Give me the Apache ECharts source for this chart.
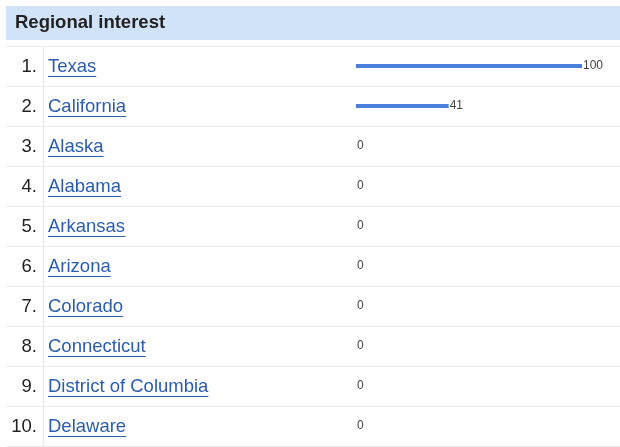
<!DOCTYPE html>
<html>
<head>
<meta charset="utf-8">
<script src="https://cdn.jsdelivr.net/npm/echarts@6/dist/echarts.min.js"></script>
<style>html,body{margin:0;padding:0;background:#fff}#chart{width:620px;height:447px}</style>
</head>
<body>
<div id="chart"></div>
<script>
var regions = ['Texas','California','Alaska','Alabama','Arkansas','Arizona','Colorado','Connecticut','District of Columbia','Delaware'];
var interest = [100, 41, 0, 0, 0, 0, 0, 0, 0, 0];

var nameFont = '18.5px "Liberation Sans", Arial, sans-serif';
var ctx = document.createElement('canvas').getContext('2d');
ctx.font = nameFont;

var chart = echarts.init(document.getElementById('chart'));

var option = {
	animation : false,
	graphic : [
		{ type : 'rect', shape : { x : 6, y : 6, width : 614, height : 34 }, style : { fill : '#d1e3f8' } },
		{ type : 'text', x : 15, y : 23, style : { text : 'Regional interest', font : 'bold 18.5px "Liberation Sans", Arial, sans-serif', fill : '#222', verticalAlign : 'middle' } },
		{ type : 'line', shape : { x1 : 6, y1 : 46.5, x2 : 620, y2 : 46.5 }, style : { stroke : '#ebebeb', lineWidth : 1 } },
		{ type : 'line', shape : { x1 : 43.5, y1 : 47, x2 : 43.5, y2 : 447 }, style : { stroke : '#e6e6e6', lineWidth : 1 } }
	],
	grid : { left : 356, width : 226, top : 46, height : 400 },
	xAxis : { type : 'value', min : 0, max : 100, show : false },
	yAxis : { type : 'category', data : regions, inverse : true, show : false },
	series : [
		{
			type : 'custom',
			data : regions.map(function (r, i) { return [0, i]; }),
			renderItem : function (params, api) {
				var i = api.value(1);
				var y = api.coord([0, i])[1];
				var w = ctx.measureText(regions[i]).width;
				return {
					type : 'group',
					children : [
						{ type : 'line', shape : { x1 : 6, y1 : y + 20.5, x2 : 620, y2 : y + 20.5 }, style : { stroke : '#ebebeb', lineWidth : 1 } },
						{ type : 'text', x : 37, y : y + 1, style : { text : (i + 1) + '.', font : nameFont, fill : '#222', align : 'right', verticalAlign : 'middle' } },
						{ type : 'text', x : 48, y : y + 1, style : { text : regions[i], font : nameFont, fill : '#2a5db0', align : 'left', verticalAlign : 'middle' } },
						{ type : 'line', shape : { x1 : 48, y1 : y + 10.5, x2 : 48 + w, y2 : y + 10.5 }, style : { stroke : '#2a5db0', lineWidth : 1 } }
					]
				};
			},
			z : 1
		},
		{
			type : 'bar',
			data : interest,
			barWidth : 4,
			itemStyle : { color : '#4a80dc' },
			label : { show : true, position : 'right', distance : 1, fontSize : 12, color : '#444', fontFamily : 'Liberation Sans' },
			z : 2
		}
	]
};
chart.setOption(option);
</script>
</body>
</html>
